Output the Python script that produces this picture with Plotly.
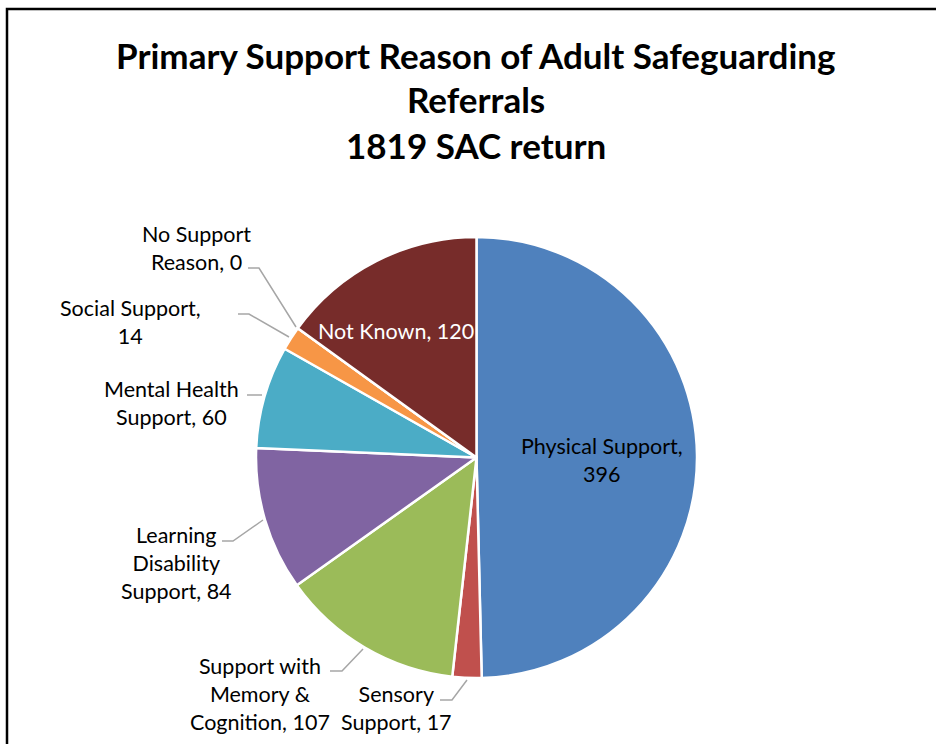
import plotly.graph_objects as go

categories = ["Physical Support", "Sensory Support", "Support with Memory & Cognition",
              "Learning Disability Support", "Mental Health Support", "Social Support",
              "No Support Reason", "Not Known"]
values = [396, 17, 107, 84, 60, 14, 0, 120]
colors = ["#4F81BD", "#C0504D", "#9BBB59", "#8064A2", "#4BACC6", "#F79646", "#2C4D75", "#772C2A"]
title_lines = ["Primary Support Reason of Adult Safeguarding", "Referrals", "1819 SAC return"]

W, H = 936, 744
FONT = "Lato"

fig = go.Figure()
fig.add_trace(go.Pie(
    labels=categories, values=values, sort=False, direction="clockwise", rotation=0,
    marker=dict(colors=colors, line=dict(color="white", width=2.5)),
    textinfo="none", hoverinfo="label+value", showlegend=False,
    domain=dict(x=[256 / W, 697 / W], y=[(H - 678) / H, (H - 237) / H]),
))

# label placements (pixel space on an invisible full-canvas axis)
labels_spec = [
    ("No Support<br>Reason, 0", 196, 248, "black", [(248, 268), (259, 268), (296, 327)]),
    ("Social Support,<br>14", 130, 322, "black", [(238, 314), (249, 314), (289, 337)]),
    ("Mental Health<br>Support, 60", 171, 403, "black", [(247, 395), (262, 395)]),
    ("Learning<br>Disability<br>Support, 84", 176, 563, "black", [(222, 541), (233, 541), (263, 520)]),
    ("Support with<br>Memory &<br>Cognition, 107", 260, 694, "black", [(330, 671), (342, 671), (363, 649)]),
    ("Sensory<br>Support, 17", 396, 708, "black", [(440, 700), (452, 700), (467, 680)]),
    ("Not Known, 120", 396, 331, "white", None),
    ("Physical Support,<br>396", 602, 460, "black", None),
]

annotations = []
shapes = []
for text, x, y, col, leader in labels_spec:
    annotations.append(dict(text=text, x=x, y=y, xref="x", yref="y", showarrow=False,
                            font=dict(family=FONT, size=21.5, color=col), align="center",
                            xanchor="center", yanchor="middle"))
    if leader:
        path = "M " + " L ".join(f"{px},{py}" for px, py in leader)
        shapes.append(dict(type="path", path=path, xref="x", yref="y",
                           line=dict(color="#A6A6A6", width=1.5)))

title_y = [55, 99, 145]
for t, ty in zip(title_lines, title_y):
    annotations.append(dict(text=f"<b>{t}</b>", x=476, y=ty, xref="x", yref="y", showarrow=False,
                            font=dict(family=FONT, size=35, color="black"),
                            xanchor="center", yanchor="middle"))

# chart frame
shapes.append(dict(type="rect", xref="x", yref="y", x0=7, y0=9, x1=W + 20, y1=H + 20,
                   line=dict(color="black", width=2.5), fillcolor="rgba(0,0,0,0)", layer="above"))

fig.update_layout(
    width=W, height=H, margin=dict(l=0, r=0, t=0, b=0),
    paper_bgcolor="white", plot_bgcolor="rgba(0,0,0,0)",
    xaxis=dict(range=[0, W], visible=False, fixedrange=True),
    yaxis=dict(range=[H, 0], visible=False, fixedrange=True),
    annotations=annotations, shapes=shapes,
)

fig.write_html("out.html", config={"displayModeBar": False},
               post_script="document.body.style.margin='0';document.body.style.overflow='hidden';")
